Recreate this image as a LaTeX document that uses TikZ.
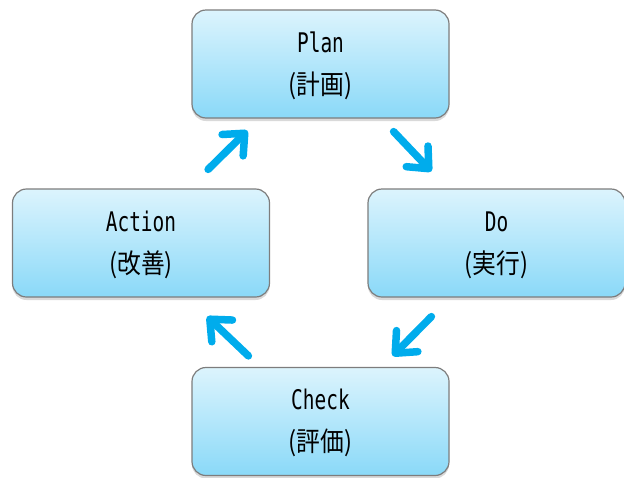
\documentclass[tikz,border=0pt]{standalone}
\usepackage{fontspec}
\usetikzlibrary{arrows.meta,calc,shadows}
\newfontfamily\latinfnt{DejaVu Sans Mono}[FakeStretch=0.72]
\newfontfamily\cjkfnt{Noto Sans CJK JP}[FakeStretch=0.88]
\definecolor{boxtop}{RGB}{220,244,253}
\definecolor{boxbottom}{RGB}{138,217,248}
\definecolor{boxline}{RGB}{125,125,125}
\definecolor{cycblue}{RGB}{0,172,236}
\tikzset{
    stage/.style={draw=boxline, line width=1.2pt, rounded corners=14pt,
        top color=boxtop, bottom color=boxbottom,
        minimum width=257pt, minimum height=108pt, align=center,
        drop shadow={shadow xshift=0pt, shadow yshift=-3pt, opacity=0.3},
        font=\fontsize{27}{42}\selectfont},
    cycle/.style={cycblue, line width=7.5pt, line cap=round,
        -{Straight Barb[length=17pt, width=30pt, round]}}
}
\newcommand{\stagetext}[2]{\rule{0pt}{24pt}{\latinfnt #1}\\{\cjkfnt\fontsize{27}{42}\selectfont (#2)}}

\begin{document}
\begin{tikzpicture}[x=1pt, y=-1pt]
    \useasboundingbox (0,0) rectangle (624,477);
    \node [stage] (plan) at (320.5,64) {\stagetext{Plan}{計画}};
    \node [stage] (do) at (496.5,243) {\stagetext{Do}{実行}};
    \node [stage] (check) at (320.5,421.5) {\stagetext{Check}{評価}};
    \node [stage] (action) at (141,243) {\stagetext{Action}{改善}};
    \draw [cycle] ($(plan.south east)+(-56,13)$) -- ($(do.north west)+(64,-17)$);
    \draw [cycle] ($(do.south west)+(64,19)$) -- ($(check.north east)+(-57,-11)$);
    \draw [cycle] ($(check.north west)+(57,-11)$) -- ($(action.south east)+(-63,19)$);
    \draw [cycle] ($(action.north east)+(-62,-19)$) -- ($(plan.south west)+(56,12)$);
\end{tikzpicture}
\end{document}
